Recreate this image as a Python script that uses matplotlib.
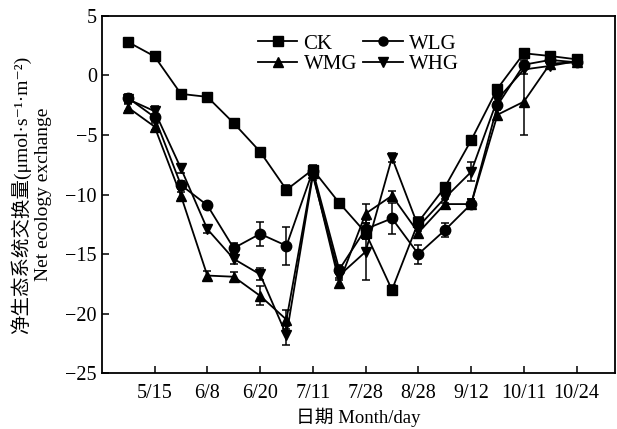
import numpy as np
import matplotlib
matplotlib.use('Agg')
import matplotlib.pyplot as plt
from matplotlib.lines import Line2D

plt.rcParams['font.family'] = ['Liberation Serif', 'Noto Sans CJK SC', 'DejaVu Sans']
plt.rcParams['axes.unicode_minus'] = True

#* sampling positions (half-tick spacing) and tick labels
x_pos = np.arange(1, 19) * 0.5
tick_pos = np.arange(1, 10)
tick_labels = ['5/15', '6/8', '6/20', '7/11', '7/28', '8/28', '9/12', '10/11', '10/24']

ck = [2.8, 1.6, -1.55, -1.8, -4.0, -6.4, -9.6, -7.9, -10.7, -13.2, -18.0, -12.3, -9.4, -5.45, -1.1, 1.86, 1.63, 1.35]
ck_err = [0.2, 0.2, 0.2, 0.2, 0.2, 0.2, 0.4, 0.4, 0.3, 0.5, 0.4, 0.4, 0.3, 0.3, 0.3, 0.3, 0.3, 0.3]

wlg = [-1.9, -3.5, -9.2, -10.9, -14.5, -13.3, -14.3, -8.0, -16.3, -12.9, -12.0, -15.0, -13.0, -10.8, -2.5, 0.9, 1.3, 1.1]
wlg_err = [0.3, 0.3, 0.3, 0.3, 0.4, 1.0, 1.6, 0.4, 0.4, 0.8, 1.3, 0.8, 0.6, 0.4, 0.3, 0.4, 0.3, 0.3]

wmg = [-2.7, -4.3, -10.1, -16.8, -16.9, -18.5, -20.5, -8.2, -17.4, -11.6, -10.1, -13.2, -10.8, -10.8, -3.3, -2.2, 1.0, 1.1]
wmg_err = [0.3, 0.3, 0.3, 0.4, 0.4, 0.8, 0.8, 0.4, 0.4, 0.8, 0.4, 0.4, 0.4, 0.4, 0.4, 2.8, 0.3, 0.3]

whg = [-2.0, -3.0, -7.8, -12.9, -15.4, -16.7, -21.8, -8.4, -16.8, -14.8, -6.9, -12.7, -10.3, -8.1, -2.0, 0.5, 0.8, 1.2]
whg_err = [0.3, 0.4, 0.4, 0.3, 0.4, 0.5, 0.8, 0.4, 0.4, 2.4, 0.4, 0.4, 0.4, 0.8, 0.4, 0.4, 0.3, 0.3]

series = [
    ('CK', ck, ck_err, 's'),
    ('WMG', wmg, wmg_err, '^'),
    ('WLG', wlg, wlg_err, 'o'),
    ('WHG', whg, whg_err, 'v'),
]

fig = plt.figure(figsize=(6.17, 4.29), dpi=100)
ax = fig.add_axes([0.165, 0.130, 0.832, 0.833])

handles = []
for name, y, yerr, mk in series:
    ax.errorbar(x_pos, y, yerr=yerr, fmt='-' + mk, color='black', ms=7.5,
                lw=1.3, elinewidth=1.1, capsize=3, capthick=1.1)
    handles.append(Line2D([], [], color='black', marker=mk, ms=6.5, lw=1.3, label=name))

ax.set_xlim(0, 9.73)
ax.set_ylim(-25, 5)
ax.set_yticks(np.arange(-25, 6, 5))
ax.set_xticks(tick_pos)
ax.set_xticklabels(tick_labels)
ax.tick_params(direction='in', length=5, width=1.1, labelsize=14.5, top=False, right=False)
ax.tick_params(axis='x', pad=8)
for sp in ax.spines.values():
    sp.set_linewidth(1.3)

ax.set_xlabel('日期 Month/day', fontsize=13.5, labelpad=3)
ax.set_ylabel('净生态系统交换量(μmol·s⁻¹·m⁻²)\nNet ecology exchange', fontsize=14,
              labelpad=10, linespacing=1.25)

ax.legend(handles=handles, ncol=2, frameon=False, loc='upper center', bbox_to_anchor=(0.5, 0.99),
          fontsize=15, handlelength=1.9, handletextpad=0.3, columnspacing=0.3,
          labelspacing=0.05, borderpad=0.2)

fig.savefig('out.png', dpi=100)
